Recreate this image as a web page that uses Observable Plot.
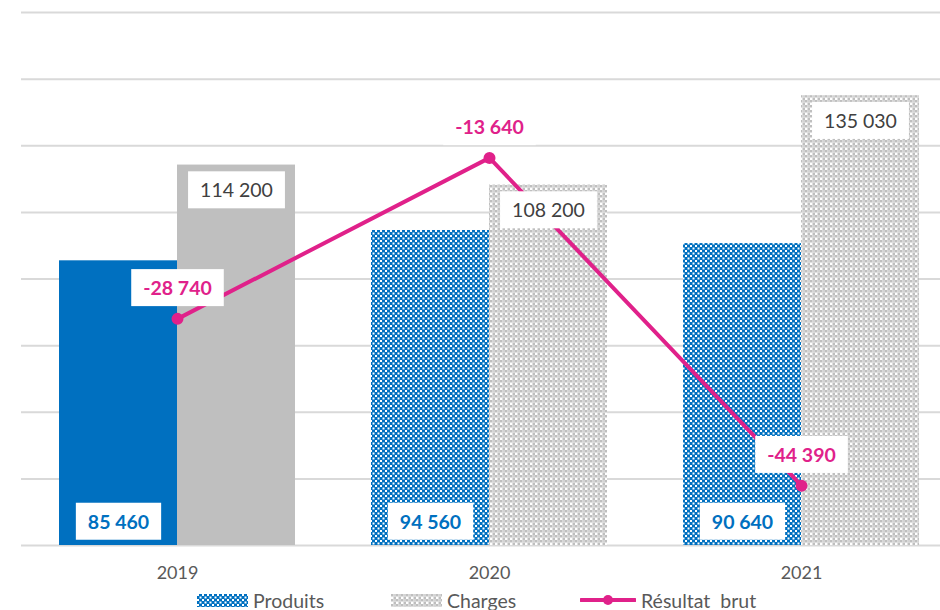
<!DOCTYPE html>
<html><head><meta charset="utf-8">
<script src="https://cdn.jsdelivr.net/npm/d3@7"></script>
<script src="https://cdn.jsdelivr.net/npm/@observablehq/plot@0.6"></script>
<style>
body{margin:0;background:#fff;font-family:Lato,sans-serif;}
#wrap{position:relative;width:940px;height:610px;overflow:hidden;}
#legend{position:absolute;left:0;top:588px;width:940px;height:24px;font-size:19.5px;color:#595959;}
.item{position:absolute;top:0;height:24px;display:flex;align-items:center;}
.item svg{display:block;margin-right:5px;}
</style></head><body>
<div id="wrap"><div id="chart"></div><div id="legend"></div></div>
<script>
const years = ["2019", "2020", "2021"];
const produits = [85460, 94560, 90640];
const charges = [114200, 108200, 135030];
const resultat = [-28740, -13640, -44390];
const patterned = [false, true, true];
const yTicks = [0, 20000, 40000, 60000, 80000, 100000, 120000, 140000, 160000];
const secondaryDomain = [-50000, 0];
const seriesNames = ["Produits", "Charges", "Résultat  brut"];

const BLUE = "#0070c0", GREY = "#bfbfbf", MAGENTA = "#e0218a";
const fmt = d3.formatLocale({decimal: ",", thousands: " ", grouping: [3], currency: ["", "€"], minus: "-"}).format(",d");
const sec = d3.scaleLinear(secondaryDomain, [yTicks[0], yTicks[yTicks.length - 1]]);

const rows = years.map((y, i) => ({year: y, produits: produits[i], charges: charges[i], resultat: resultat[i], pat: patterned[i]}));
const solid = rows.filter(d => !d.pat), pat = rows.filter(d => d.pat);

const chart = Plot.plot({
  width: 940, height: 588,
  marginLeft: 21, marginRight: 0, marginTop: 12, marginBottom: 43,
  x: {domain: years, range: [21, 957], padding: 0, tickSize: 0, tickPadding: 21, label: null},
  y: {domain: [yTicks[0], yTicks[yTicks.length - 1]], axis: null},
  style: {fontFamily: "Lato, sans-serif", fontSize: "18px", color: "#595959", background: "#fff"},
  marks: [
    Plot.ruleY(yTicks, {stroke: "#d9d9d9", strokeWidth: 2}),
    Plot.barY(solid, {x: "year", y: "produits", fill: BLUE, insetLeft: 38, insetRight: 156}),
    Plot.barY(pat, {x: "year", y: "produits", fill: "url(#patBlue)", insetLeft: 38, insetRight: 156}),
    Plot.barY(solid, {x: "year", y: "charges", fill: GREY, insetLeft: 156, insetRight: 38}),
    Plot.barY(pat, {x: "year", y: "charges", fill: "url(#patGrey)", insetLeft: 156, insetRight: 38}),
    Plot.line(rows, {x: "year", y: d => sec(d.resultat), stroke: MAGENTA, strokeWidth: 4}),
    Plot.dot(rows, {x: "year", y: d => sec(d.resultat), r: 6, fill: MAGENTA}),
    Plot.text(rows, {x: "year", y: 0, text: d => fmt(d.produits), dx: -59, dy: -23, fill: BLUE, fontWeight: "bold", fontSize: 19.5}),
    Plot.text(rows, {x: "year", y: "charges", text: d => fmt(d.charges), dx: 59, dy: 26, fill: "#404040", fontSize: 19.5}),
    Plot.text(rows, {x: "year", y: d => sec(d.resultat), text: d => fmt(d.resultat), dy: -30, fill: MAGENTA, fontWeight: "bold", fontSize: 19.5})
  ]
});
document.getElementById("chart").appendChild(chart);

const NS = "http://www.w3.org/2000/svg";
function addPatterns(svg) {
  const defs = document.createElementNS(NS, "defs");
  defs.innerHTML = `
    <pattern id="patBlue" width="5" height="5" patternUnits="userSpaceOnUse">
      <rect width="5" height="5" fill="${BLUE}"/>
      <rect x="0" y="0" width="2" height="2" fill="#fff"/>
      <rect x="2.5" y="2.5" width="2" height="2" fill="#fff"/>
    </pattern>
    <pattern id="patGrey" width="5" height="5" patternUnits="userSpaceOnUse">
      <rect width="5" height="5" fill="#fff"/>
      <rect x="0" y="0" width="2.5" height="2.5" fill="${GREY}"/>
      <rect x="2.5" y="2.5" width="2.5" height="2.5" fill="${GREY}"/>
      <rect x="2.5" y="0" width="2.5" height="2.5" fill="#d4d4d4"/>
    </pattern>`;
  svg.insertBefore(defs, svg.firstChild);
}
addPatterns(chart);

// white boxes behind value labels
chart.querySelectorAll('g[aria-label="text"] text').forEach(t => {
  const b = t.getBBox();
  const r = document.createElementNS(NS, "rect");
  const px = 12, py = 7;
  r.setAttribute("x", b.x - px); r.setAttribute("y", b.y - py);
  r.setAttribute("width", b.width + 2 * px); r.setAttribute("height", b.height + 2 * py);
  r.setAttribute("fill", "#fff");
  if (t.getAttribute("transform")) r.setAttribute("transform", t.getAttribute("transform"));
  t.parentNode.insertBefore(r, t);
});

// legend
const legend = document.getElementById("legend");
function item(left, swatch, label) {
  const d = document.createElement("div");
  d.className = "item"; d.style.left = left + "px";
  d.innerHTML = swatch + `<span style="white-space:pre">${label}</span>`;
  legend.appendChild(d);
}
item(197, `<svg width="51" height="13"><rect width="51" height="13" fill="url(#patBlue)"/></svg>`, seriesNames[0]);
item(391, `<svg width="51" height="13"><rect width="51" height="13" fill="url(#patGrey)"/></svg>`, seriesNames[1]);
item(580, `<svg width="56" height="12"><line x1="1" x2="55" y1="6" y2="6" stroke="${MAGENTA}" stroke-width="4" stroke-linecap="round"/><circle cx="28" cy="6" r="5" fill="${MAGENTA}"/></svg>`, seriesNames[2]);
</script>
</body></html>
